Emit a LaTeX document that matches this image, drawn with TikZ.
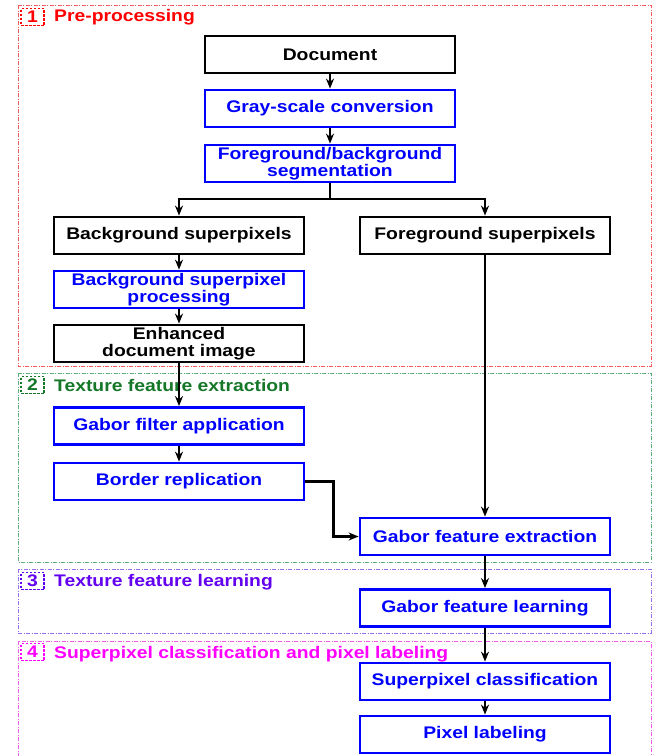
\documentclass[tikz,border=0pt]{standalone}
\usepackage{fontspec}
\setmainfont[FakeStretch=1.15]{Liberation Sans}
\usetikzlibrary{arrows.meta}
\definecolor{fblue}{RGB}{0,0,255}
\definecolor{c1}{RGB}{255,0,0}
\definecolor{c1f}{RGB}{240,90,90}
\definecolor{c2}{RGB}{20,120,40}
\definecolor{c2f}{RGB}{90,175,120}
\definecolor{c3}{RGB}{100,0,240}
\definecolor{c3f}{RGB}{150,110,240}
\definecolor{c4}{RGB}{255,0,255}
\definecolor{c4f}{RGB}{240,90,230}
\begin{document}
\begin{tikzpicture}[x=1pt,y=-1pt,
  font=\bfseries\fontsize{16.8}{17}\selectfont,
  box/.style={draw, line width=2.8pt, minimum width=250pt, minimum height=37pt, align=center, inner sep=0pt},
  bbox/.style={box, draw=black, text=black},
  ubox/.style={box, draw=fblue, text=fblue},
  arr/.style={-{Stealth[length=10pt,width=8pt]}, line width=2.5pt},
  ln/.style={line width=2.5pt},
  frame/.style={line width=0.9pt, dash pattern=on 4pt off 1.5pt on 1pt off 1.5pt},
  numbox/.style={draw, line width=1.2pt, dash pattern=on 2.5pt off 1.5pt, minimum width=23pt, minimum height=17pt, inner sep=0pt},
  lbl/.style={anchor=west, inner sep=0pt}]
\useasboundingbox (0,0) rectangle (664,756);
% frames
\draw[frame, draw=c1f] (18,5) rectangle (651,366);
\draw[frame, draw=c2f] (18,373) rectangle (651,562);
\draw[frame, draw=c3f] (18,569) rectangle (651,633);
\draw[frame, draw=c4f] (18,641) rectangle (651,760);
% region labels
\node[numbox, draw=c1, text=c1] (n1) at (32.5,17) {1};
\node[lbl, text=c1] (l1) at (54,17) {Pre-processing};
\node[numbox, draw=c2, text=c2] (n2) at (32.5,385) {2};
\node[lbl, text=c2] (l2) at (54,385) {Texture feature extraction};
\node[numbox, draw=c3, text=c3] (n3) at (32.5,581) {3};
\node[lbl, text=c3] (l3) at (54,582) {Texture feature learning};
\node[numbox, draw=c4, text=c4] (n4) at (32.5,652) {4};
\node[lbl, text=c4] (l4) at (54,654) {Superpixel classification and pixel labeling};
% nodes
\node[bbox] (doc) at (330,54.5) {Document};
\node[ubox] (gray) at (330,108.5) {Gray-scale conversion};
\node[ubox] (seg) at (330,163.5) {Foreground/background\\segmentation};
\node[bbox] (bgs) at (179,235.5) {Background superpixels};
\node[bbox] (fgs) at (485,235.5) {Foreground superpixels};
\node[ubox] (bsp) at (179,289.5) {Background superpixel\\processing};
\node[bbox] (enh) at (179,343.5) {Enhanced\\document image};
\node[ubox] (gfa) at (179,426) {Gabor filter application};
\node[ubox] (brep) at (179,481.5) {Border replication};
\node[ubox] (gfe) at (485,536.5) {Gabor feature extraction};
\node[ubox] (gfl) at (485,608) {Gabor feature learning};
\node[ubox] (spc) at (485,681.5) {Superpixel classification};
\node[ubox] (pxl) at (485,734.5) {Pixel labeling};
% connectors
\draw[arr] (doc) -- (gray);
\draw[arr] (gray) -- (seg);
\coordinate (br) at (330,199);
\draw[ln] (seg.south) -- (br);
\draw[arr] (br) -| (bgs);
\draw[arr] (br) -| (fgs);
\draw[arr] (bgs) -- (bsp);
\draw[arr] (bsp) -- (enh);
\draw[arr] (enh) -- (gfa);
\draw[arr] (gfa) -- (brep);
\draw[arr] (brep.east) -- ++(28,0) |- (gfe.west);
\draw[arr] (fgs) -- (gfe);
\draw[arr] (gfe) -- (gfl);
\draw[arr] (gfl) -- (spc);
\draw[arr] (spc) -- (pxl);
\end{tikzpicture}
\end{document}
